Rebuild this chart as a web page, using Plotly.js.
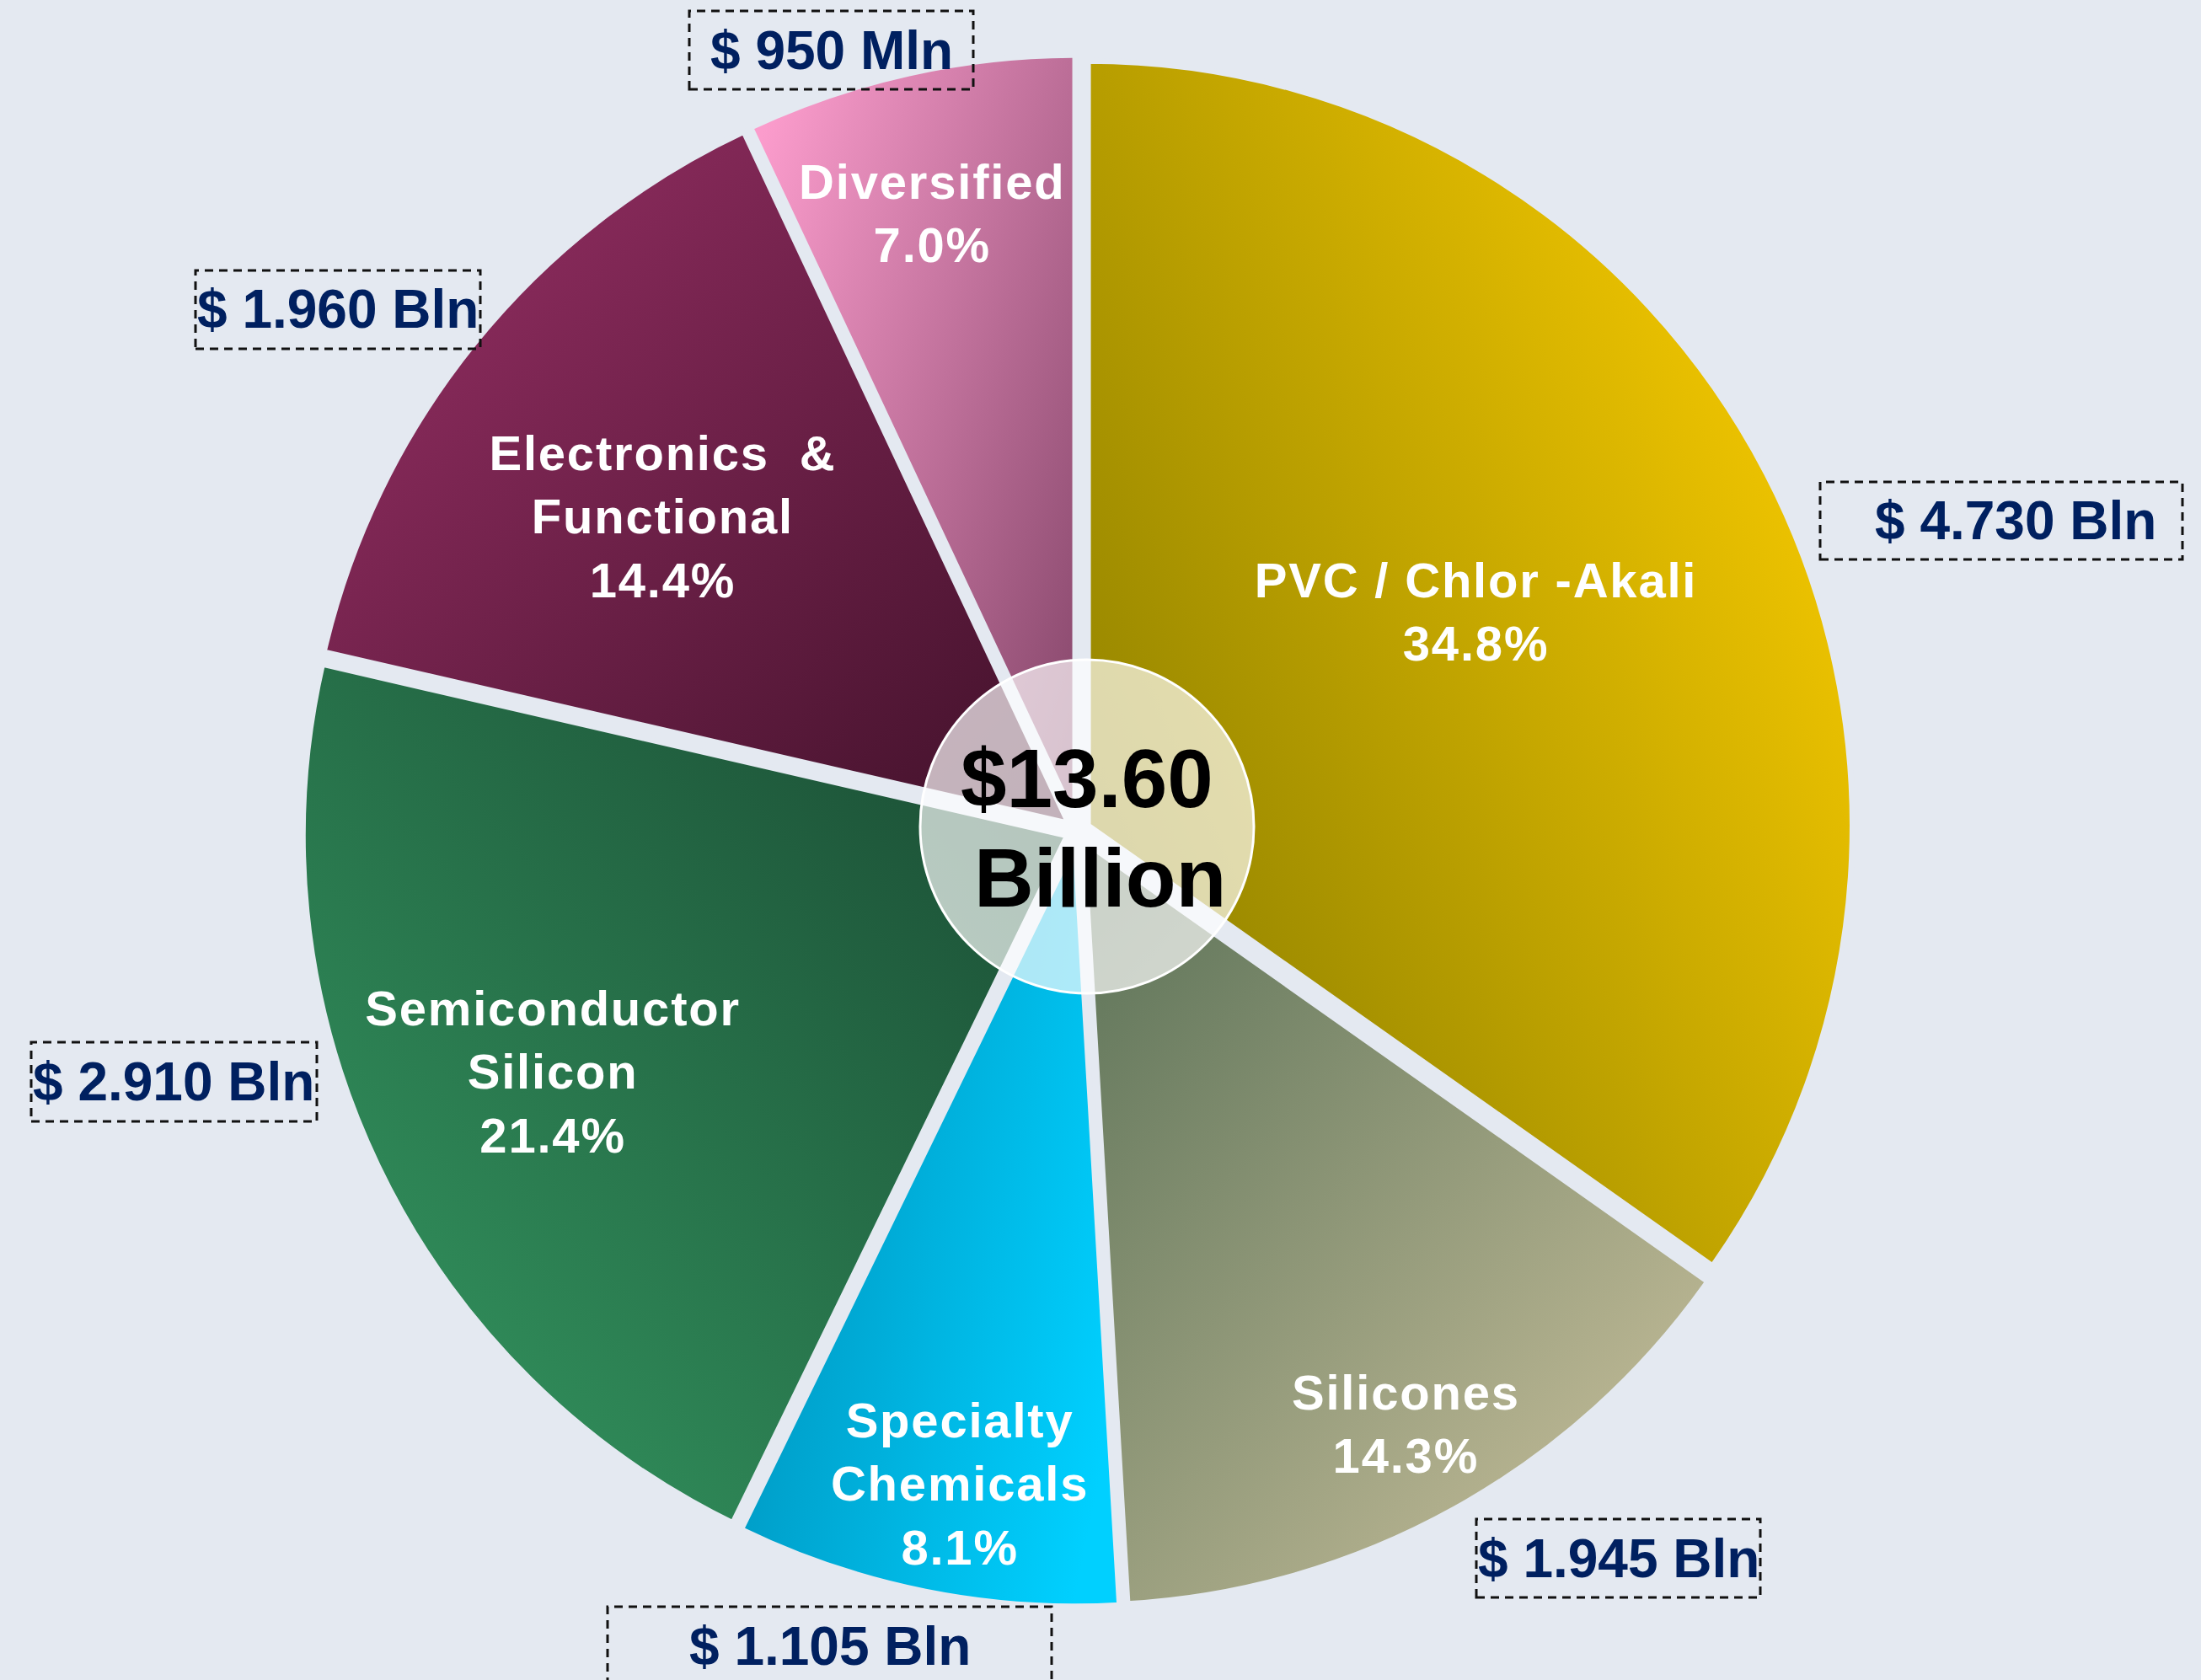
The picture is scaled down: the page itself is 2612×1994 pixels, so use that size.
<!DOCTYPE html>
<html>
<head>
<meta charset="utf-8">
<script src="https://cdn.plot.ly/plotly-3.0.1.min.js"></script>
<style>
html, body { margin: 0; padding: 0; background: #e4e9f1; }
#chart { width: 2612px; height: 1994px; }
</style>
</head>
<body>
<div id="chart"></div>
<script>
// ---- data ----
const segments = ["PVC / Chlor -Akali", "Silicones", "Specialty Chemicals", "Semiconductor Silicon", "Electronics & Functional", "Diversified"];
const sliceLabels = ["PVC / Chlor -Akali", "Silicones", "Specialty<br>Chemicals", "Semiconductor<br>Silicon", "Electronics  &<br>Functional", "Diversified"];
const revenueBln = [4.730, 1.945, 1.105, 2.910, 1.960, 0.950];
const valueLabels = ["$ 4.730 Bln", "$ 1.945 Bln", "$ 1.105 Bln", "$ 2.910 Bln", "$ 1.960 Bln", "$ 950 Mln"];
const totalLabel = ["$13.60", "Billion"];

// ---- styling ----
const W = 2612, H = 1994;
const BG = '#e4e9f1';
const solidColors = ['#c9ad00', '#97987a', '#00b0e0', '#26704a', '#6e2348', '#d07aa6'];
const gradients = [
  {x1: 0.88, y1: 0.12, x2: 0.05, y2: 0.70, c1: '#f6c900', c2: '#948500'},
  {x1: 0.05, y1: 0.05, x2: 0.85, y2: 0.95, c1: '#5f755a', c2: '#c3bc98'},
  {x1: 0.0,  y1: 0.3,  x2: 1.0,  y2: 0.7,  c1: '#0092bb', c2: '#00d0ff'},
  {x1: 0.95, y1: 0.05, x2: 0.1,  y2: 0.95, c1: '#1a4b33', c2: '#33955f'},
  {x1: 0.05, y1: 0.05, x2: 0.95, y2: 0.95, c1: '#962f64', c2: '#44122c'},
  {x1: 0.0,  y1: 0.15, x2: 1.0,  y2: 0.95, c1: '#fb9ccc', c2: '#85466a'}
];
// label block centres (px) and value box geometry (px)
const labelPos = [[1751, 726], [1668, 1690], [1139, 1761], [656, 1272], [786, 613], [1106, 253]];
const boxes = [
  {x0: 2160, x1: 2590, y0: 572,  y1: 664,  tx: 2392, ty: 618},
  {x0: 1752, x1: 2089, y0: 1803, y1: 1896, tx: 1921, ty: 1850},
  {x0: 721,  x1: 1248, y0: 1907, y1: 2010, tx: 985,  ty: 1954},
  {x0: 37,   x1: 376,  y0: 1237, y1: 1331, tx: 206,  ty: 1284},
  {x0: 232,  x1: 570,  y0: 321,  y1: 414,  tx: 401,  ty: 367},
  {x0: 818,  x1: 1155, y0: 13,   y1: 106,  tx: 987,  ty: 60}
];
const px = x => x / W;
const py = y => 1 - y / H;

const total = revenueBln.reduce((a, b) => a + b, 0);
const pctText = revenueBln.map(v => (v / total * 100).toFixed(1) + '%');

const FONT = 'Liberation Sans, Arial, Helvetica, sans-serif';

const annotations = [];
sliceLabels.forEach((t, i) => {
  annotations.push({
    xref: 'paper', yref: 'paper', x: px(labelPos[i][0]), y: py(labelPos[i][1]),
    xanchor: 'center', yanchor: 'middle', showarrow: false, align: 'center',
    text: t + '<br>' + pctText[i],
    font: {family: FONT, size: 58, color: '#ffffff', weight: 'bold'}
  });
});
valueLabels.forEach((t, i) => {
  const b = boxes[i];
  annotations.push({
    xref: 'paper', yref: 'paper', x: px(b.tx), y: py(b.ty),
    xanchor: 'center', yanchor: 'middle', showarrow: false,
    text: t, font: {family: FONT, size: 64, color: '#002060', weight: 'bold'}
  });
});
annotations.push({
  xref: 'paper', yref: 'paper', x: px(1290), y: py(924), xanchor: 'center', yanchor: 'middle',
  showarrow: false, text: totalLabel[0], font: {family: FONT, size: 98, color: '#000000', weight: 'bold'}
});
annotations.push({
  xref: 'paper', yref: 'paper', x: px(1305), y: py(1042), xanchor: 'center', yanchor: 'middle',
  showarrow: false, text: totalLabel[1], font: {family: FONT, size: 98, color: '#000000', weight: 'bold'}
});

const shapes = boxes.map(b => ({
  type: 'rect', xref: 'paper', yref: 'paper',
  x0: px(b.x0), x1: px(b.x1), y0: py(b.y1), y1: py(b.y0),
  line: {color: '#111111', width: 3, dash: '10px,7px'}, fillcolor: 'rgba(0,0,0,0)'
}));
const cR = 198, cX = 1290, cY = 981;
shapes.push({
  type: 'circle', xref: 'paper', yref: 'paper', layer: 'above',
  x0: px(cX - cR), x1: px(cX + cR), y0: py(cY + cR), y1: py(cY - cR),
  fillcolor: 'rgba(255,255,255,0.68)', line: {color: '#ffffff', width: 3}
});

const cx = 1279, cy = 986, half = 921;
const trace = {
  type: 'pie',
  labels: segments,
  values: revenueBln,
  sort: false,
  direction: 'clockwise',
  rotation: 0,
  pull: [0.015, 0.015, 0.015, 0.015, 0.015, 0.015],
  marker: {colors: solidColors, line: {color: BG, width: 7}},
  textinfo: 'none',
  hoverinfo: 'skip',
  showlegend: false,
  domain: {x: [px(cx - half), px(cx + half)], y: [py(cy + half), py(cy - half)]}
};

const layout = {
  width: W, height: H,
  margin: {l: 0, r: 0, t: 0, b: 0},
  paper_bgcolor: BG, plot_bgcolor: BG,
  showlegend: false,
  annotations: annotations,
  shapes: shapes
};

Plotly.newPlot('chart', [trace], layout, {staticPlot: true, displayModeBar: false}).then(gd => {
  const ns = 'http://www.w3.org/2000/svg';
  const svg = gd.querySelector('svg.main-svg');
  let defs = svg.querySelector('defs');
  if (!defs) { defs = document.createElementNS(ns, 'defs'); svg.insertBefore(defs, svg.firstChild); }
  gradients.forEach((g, i) => {
    const lg = document.createElementNS(ns, 'linearGradient');
    lg.setAttribute('id', 'sliceGrad' + i);
    lg.setAttribute('x1', g.x1); lg.setAttribute('y1', g.y1);
    lg.setAttribute('x2', g.x2); lg.setAttribute('y2', g.y2);
    [[0, g.c1], [1, g.c2]].forEach(([o, c]) => {
      const s = document.createElementNS(ns, 'stop');
      s.setAttribute('offset', o); s.setAttribute('stop-color', c);
      lg.appendChild(s);
    });
    defs.appendChild(lg);
  });
  gd.querySelectorAll('g.slice').forEach((s, i) => {
    const p = s.querySelector('path.surface');
    if (p && gradients[i]) p.style.fill = 'url(#sliceGrad' + i + ')';
  });
  // slight tracking on slice labels
  gd.querySelectorAll('g.annotation').forEach((a, i) => {
    if (i < sliceLabels.length) {
      const t = a.querySelector('text');
      if (t) t.style.letterSpacing = '1.8px';
    }
  });
});
</script>
</body>
</html>
